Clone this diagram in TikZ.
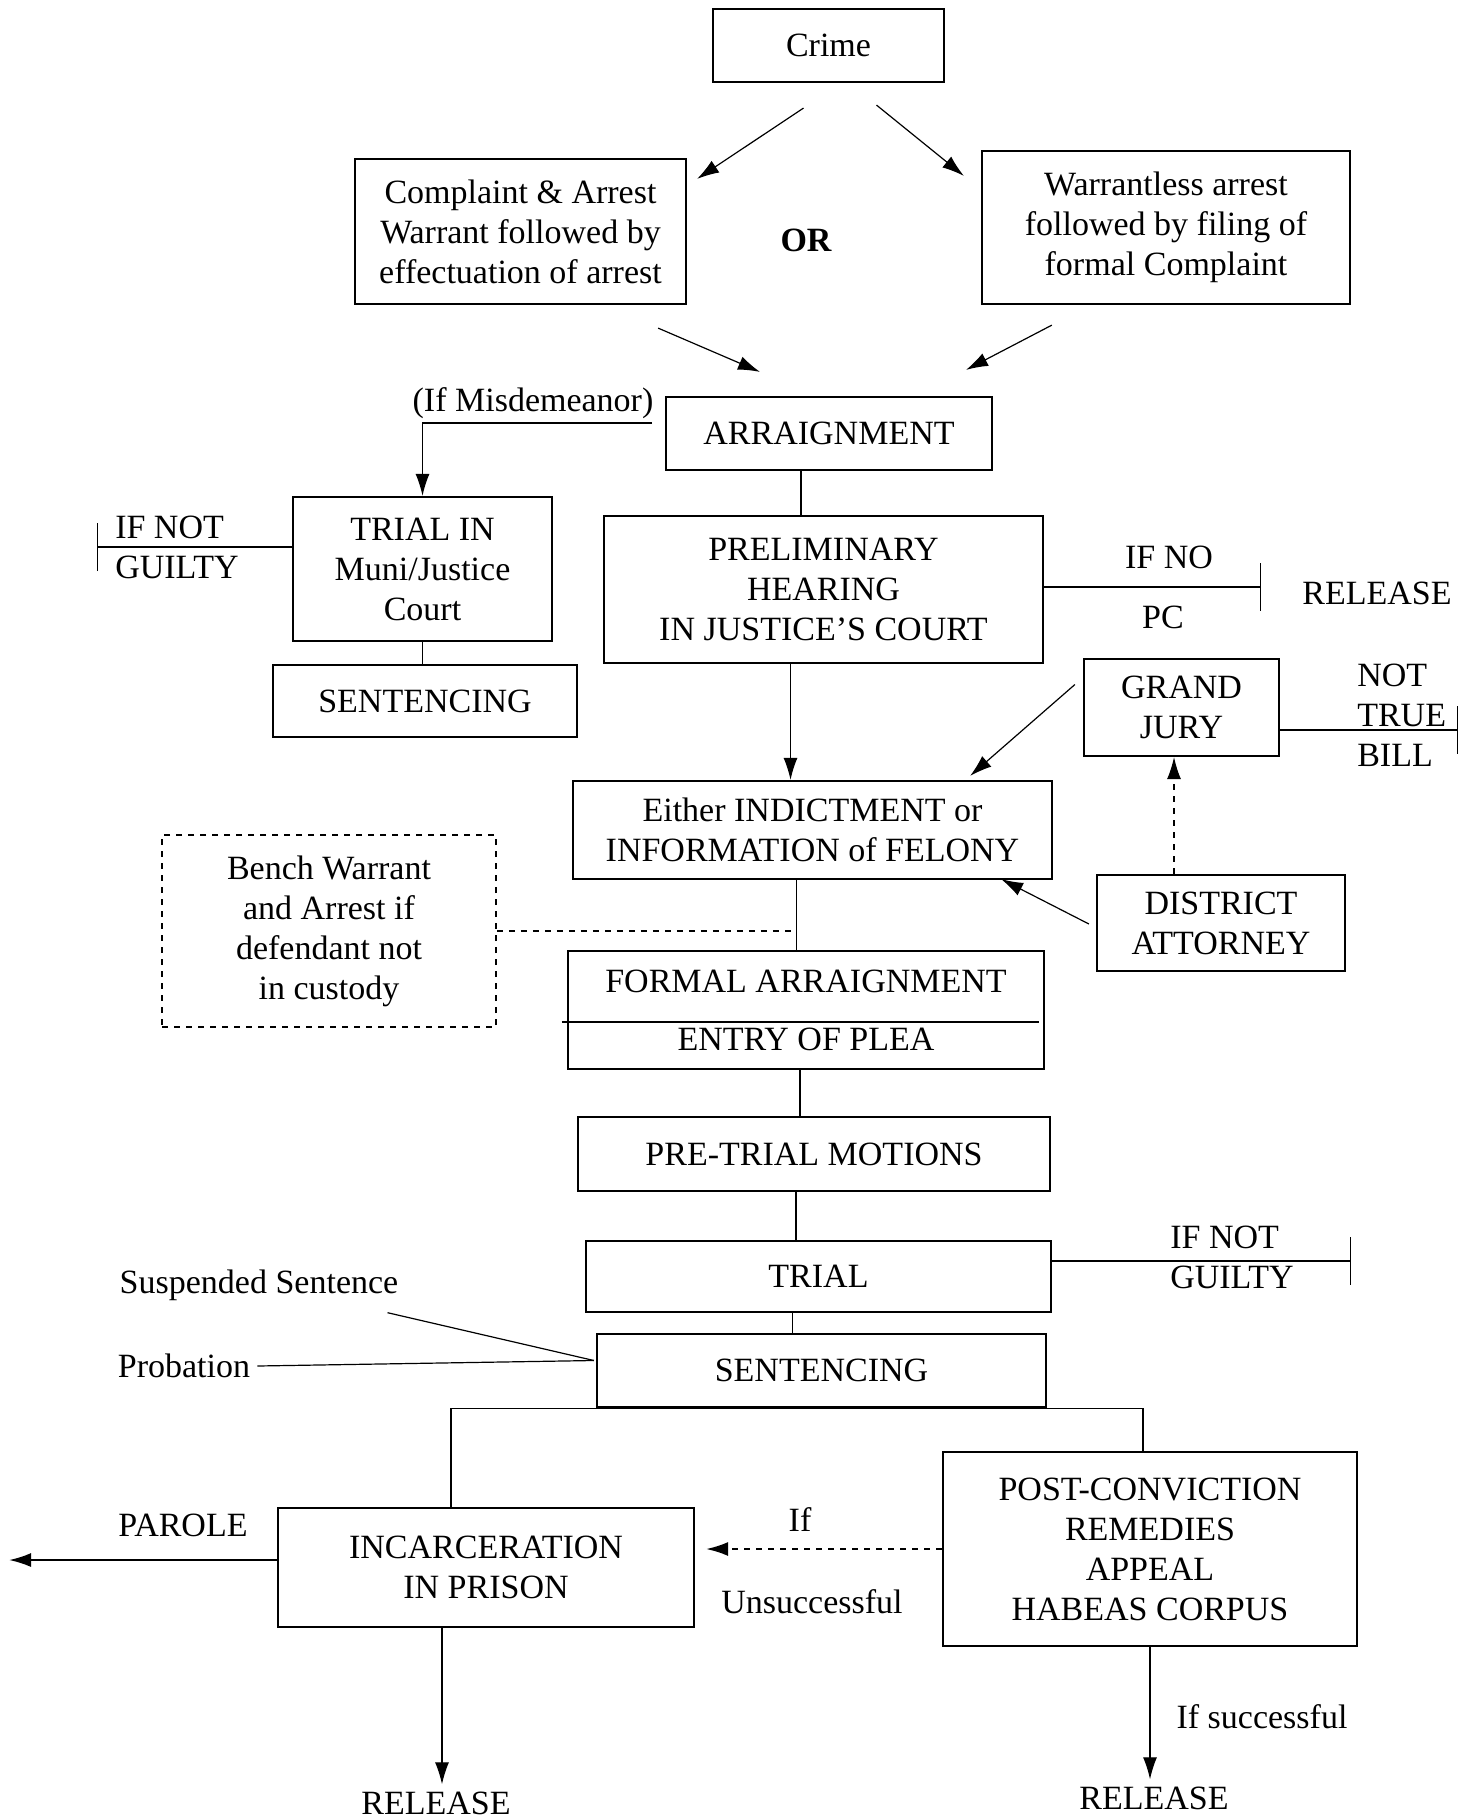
\documentclass[tikz,border=0pt]{standalone}
\usepackage{fontspec}
\setmainfont{Liberation Serif}
\usetikzlibrary{arrows.meta}

\tikzset{
  box/.style={draw, line width=1.1pt, align=center, inner sep=2pt},
  dashbox/.style={draw, dashed, line width=0.8pt, align=center},
  lbl/.style={align=left},
  arr/.style={-{Latex[length=11pt,width=7pt]}},
  barend/.style={-{Bar[width=24pt]}},
}

\begin{document}
\begin{tikzpicture}[x=0.5pt,y=-0.5pt,line width=0.6pt,font=\fontsize{17}{20}\selectfont]
   \useasboundingbox (0,0) rectangle (1473,1818);
   % boxes
   \node[box, minimum width=115.5pt, minimum height=36.5pt] (crime) at (828.5,45.5) {Crime};
   \node[box, minimum width=165.5pt, minimum height=72.5pt] (comp) at (520.5,231.5) {Complaint \& Arrest\\Warrant followed by\\effectuation of arrest};
   \node[box, minimum width=184pt, minimum height=76.5pt] (warr) at (1166,227.5) {Warrantless arrest\\followed by filing of\\formal Complaint};
   \node[font=\fontsize{17}{20}\selectfont\bfseries] (or) at (806,240) {OR};
   \node[box, minimum width=163pt, minimum height=36.5pt] (arr) at (829,433.5) {ARRAIGNMENT};
   \node[box, minimum width=129.5pt, minimum height=72pt] (muni) at (422.5,569) {TRIAL IN\\Muni/Justice\\Court};
   \node[box, minimum width=152pt, minimum height=36pt] (sentL) at (425,701) {SENTENCING};
   \node[box, minimum width=219.5pt, minimum height=73.5pt] (prelim) at (823.5,589.5) {PRELIMINARY\\HEARING\\IN JUSTICE’S COURT};
   \node[box, minimum width=97.5pt, minimum height=48.5pt] (gj) at (1181.5,707.5) {GRAND\\JURY};
   \node[box, minimum width=239.5pt, minimum height=49pt] (ind) at (812.5,830) {Either INDICTMENT or\\INFORMATION of FELONY};
   \node[box, minimum width=124pt, minimum height=48pt] (da) at (1221,923) {DISTRICT\\ATTORNEY};
   \node[dashbox, minimum width=167pt, minimum height=96pt] (bench) at (329,931) {Bench Warrant\\and Arrest if\\defendant not\\in custody};
   \node[box, minimum width=238pt, minimum height=59pt] (formal) at (806,1010) {FORMAL ARRAIGNMENT\\[9pt]ENTRY OF PLEA};
   \node[box, minimum width=236pt, minimum height=37pt] (pre) at (814,1154) {PRE-TRIAL MOTIONS};
   \node[box, minimum width=232.5pt, minimum height=35.5pt] (trl) at (818.5,1276.5) {TRIAL};
   \node[box, minimum width=224.5pt, minimum height=36.5pt] (sent) at (821.5,1370.5) {SENTENCING};
   \node[box, minimum width=208pt, minimum height=59.5pt] (incarc) at (486,1567.5) {INCARCERATION\\IN PRISON};
   \node[box, minimum width=207pt, minimum height=97pt] (post) at (1150,1549) {POST-CONVICTION\\REMEDIES\\APPEAL\\HABEAS CORPUS};
   % labels
   \node (misd) at (533,403) {(If Misdemeanor)};
   \node[lbl, anchor=west] (ngltxtL) at (108,547) {IF NOT\\GUILTY};
   \node (ifno) at (1169,557) {IF NO};
   \node (pc) at (1163,617) {PC};
   \node (rel0) at (1377,593) {RELEASE};
   \node[lbl, anchor=west] (ntbtxt) at (1350,715) {NOT\\TRUE\\BILL};
   \node[lbl, anchor=west] (ngltxtR) at (1163,1257) {IF NOT\\GUILTY};
   \node (susp) at (259,1285) {Suspended Sentence};
   \node (prob) at (184,1366) {Probation};
   \node (ifu) at (800,1520) {If};
   \node (unsucc) at (812,1602) {Unsuccessful};
   \node (parolelbl) at (183,1525) {PAROLE};
   \node (ifsucc) at (1262,1717) {If successful};
   \node (rel1) at (436,1803) {RELEASE};
   \node (rel2) at (1154,1798) {RELEASE};
   \coordinate (misdend) at (652,423);
   \coordinate (nglL) at (97,547);
   \coordinate (nopc) at (1261,587);
   \coordinate (ntb) at (1458,730);
   \coordinate (nglR) at (1351,1261);
   \coordinate (parole) at (9,1560);
   % top arrows
   \draw[arr] ([shift={(-25,25)}]crime.south) -- ([shift={(10,21)}]comp.north east);
   \draw[arr] ([shift={(48,22)}]crime.south) -- ([shift={(-17,26)}]warr.north west);
   \draw[arr] ([shift={(-29,23)}]comp.south east) -- ([shift={(-69,-24)}]arr.north);
   \draw[arr] ([shift={(71,20)}]warr.south west) -- ([shift={(137,-26)}]arr.north);
   % misdemeanor branch
   \draw[arr] (misdend) -| (muni.north);
   \draw[barend] (muni.west |- nglL) -- (nglL);
   \draw (muni.south) -- (muni.south |- sentL.north);
   % main column
   \draw ([xshift=-14pt]arr.south) -- ([xshift=-14pt]arr.south |- prelim.north);
   \draw[barend] (prelim.east |- nopc) -- (nopc);
   \draw[arr] ([xshift=-16.5pt]prelim.south) -- ([xshift=-16.5pt]prelim.south |- ind.north);
   \draw[barend] (gj.east |- ntb) -- (ntb);
   \draw[arr] ([shift={(-8,-23)}]gj.west) -- ([shift={(-83,-4)}]ind.north east);
   \draw[arr, dashed] ([xshift=-23.5pt]da.north) -- ([xshift=-23.5pt]da.north |- gj.south);
   \draw[arr] ([shift={(-7,1)}]da.west) -- ([shift={(-52,-1)}]ind.south east);
   \draw ([xshift=-8pt]ind.south) -- ([xshift=-8pt]ind.south |- formal.north);
   \draw[dashed, line width=0.8pt] (bench.east) -- ([xshift=-8pt]ind.south |- bench.east);
   \draw[line width=1.1pt] ([shift={(-5,12)}]formal.west) -- ([shift={(-6,12)}]formal.east);
   \draw ([xshift=-3pt]formal.south) -- ([xshift=-3pt]formal.south |- pre.north);
   \draw ([xshift=-9pt]pre.south) -- ([xshift=-9pt]pre.south |- trl.north);
   \draw[barend] (trl.east |- nglR) -- (nglR);
   \draw ([xshift=-13pt]trl.south) -- ([xshift=-13pt]trl.south |- sent.north);
   \draw ([shift={(-18,5)}]susp.south east) -- ([shift={(-2,-10)}]sent.west);
   \draw (prob.east) -- ([shift={(-2,-10)}]sent.west);
   % after sentencing
   \draw ([xshift=-17.5pt]incarc.north) |- (sent.south) -| ([xshift=-3.5pt]post.north);
   \draw[arr, dashed, line width=1pt] (post.west) -- ([xshift=5.5pt]incarc.east |- post.west);
   \draw[arr, line width=1pt] (incarc.west |- parole) -- (parole);
   \draw[arr] ([xshift=-22pt]incarc.south) -- ([xshift=-22pt]incarc.south |- rel1.north);
   \draw[arr] (post.south) -- (post.south |- rel2.north);
\end{tikzpicture}
\end{document}
